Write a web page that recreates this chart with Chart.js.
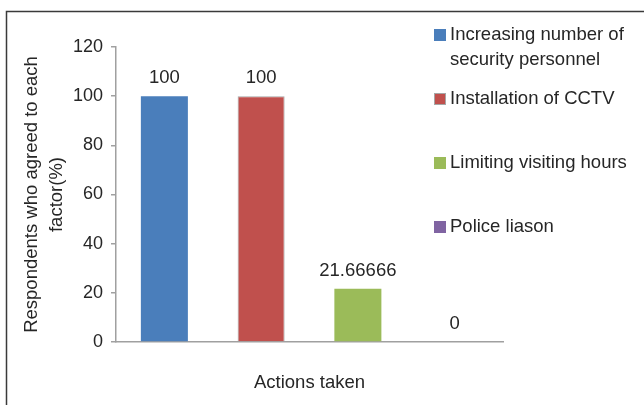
<!DOCTYPE html>
<html>
<head>
<meta charset="utf-8">
<script src="https://cdn.jsdelivr.net/npm/chart.js@4"></script>
<style>
  html, body { margin: 0; padding: 0; background: #fff; }
  canvas { display: block; }
</style>
</head>
<body>
<canvas id="chart" width="644" height="405"></canvas>
<script>
const actions = ['Increasing number of security personnel', 'Installation of CCTV', 'Limiting visiting hours', 'Police liason'];
const legendLines = [['Increasing number of', 'security personnel'], ['Installation of CCTV'], ['Limiting visiting hours'], ['Police liason']];
const agreed = [100, 100, 21.66666, 0];
const valueLabels = ['100', '100', '21.66666', '0'];
const barColors = ['#4a7ebb', '#c0504d', '#9bbb59', '#8064a2'];
const barBorders = ['#4a7ebb', '#a6a6a6', '#9bbb59', '#8064a2'];

const FONT = 'Liberation Sans, Arial, sans-serif';
const TEXT = '#262626';
const SIZE = 18.5;

// value printed above each bar
const valueLabelPlugin = {
    id: 'valueLabels',
    afterDatasetsDraw(chart) {
        const ctx = chart.ctx;
        const meta = chart.getDatasetMeta(0);
        ctx.save();
        ctx.font = SIZE + 'px ' + FONT;
        ctx.fillStyle = TEXT;
        ctx.textAlign = 'center';
        ctx.textBaseline = 'alphabetic';
        meta.data.forEach((bar, i) => {
            ctx.fillText(valueLabels[i], bar.x, bar.y - 13);
        });
        ctx.restore();
    }
};

// legend on the right, one entry per bar, plus the outer frame
const sideLegendPlugin = {
    id: 'sideLegend',
    afterDraw(chart) {
        const ctx = chart.ctx;
        ctx.save();
        ctx.strokeStyle = '#3a3a3a';
        ctx.lineWidth = 1.5;
        ctx.beginPath();
        ctx.moveTo(6.5, 405);
        ctx.lineTo(6.5, 11.5);
        ctx.lineTo(644, 11.5);
        ctx.stroke();

        ctx.font = SIZE + 'px ' + FONT;
        ctx.textAlign = 'left';
        ctx.textBaseline = 'middle';
        legendLines.forEach((lines, i) => {
            const y = 35 + i * 64;
            ctx.fillStyle = barColors[i];
            ctx.fillRect(434, y - 6, 12, 12);
            if (barBorders[i] !== barColors[i]) {
                ctx.strokeStyle = barBorders[i];
                ctx.lineWidth = 1;
                ctx.strokeRect(434.5, y - 5.5, 11, 11);
            }
            ctx.fillStyle = TEXT;
            lines.forEach((t, j) => ctx.fillText(t, 450, y + j * 25));
        });
        ctx.restore();
    }
};

const ctx = document.querySelector('#chart').getContext('2d');
const chart = new Chart(ctx, {
    type: 'bar',
    data: {
        labels: actions,
        datasets: [{
            label: 'Respondents',
            data: agreed,
            backgroundColor: barColors,
            borderColor: barBorders,
            borderWidth: [0, 1, 0, 0],
            categoryPercentage: 1,
            barPercentage: 0.486
        }]
    },
    options: {
        responsive: false,
        animation: false,
        layout: {
            padding: { left: 0, right: 141, top: 47, bottom: 0 }
        },
        scales: {
            x: {
                grid: { display: false },
                border: { display: true, color: '#a0a0a0', width: 1.5 },
                ticks: { display: false },
                title: {
                    display: true,
                    text: 'Actions taken',
                    color: TEXT,
                    font: { family: FONT, size: SIZE },
                    padding: { top: 0, bottom: 11 }
                },
                afterFit(scale) { scale.height = 63; }
            },
            y: {
                min: 0,
                max: 120,
                ticks: {
                    stepSize: 20,
                    color: TEXT,
                    font: { family: FONT, size: 18 },
                    padding: 8
                },
                grid: {
                    drawOnChartArea: false,
                    drawTicks: true,
                    tickLength: 5,
                    color: '#a0a0a0',
                    lineWidth: 1.5
                },
                border: { display: true, color: '#a0a0a0', width: 1.5 },
                title: {
                    display: true,
                    text: ['Respondents who agreed to each', 'factor(%)'],
                    color: TEXT,
                    font: { family: FONT, size: SIZE, lineHeight: 1.35 },
                    padding: { top: 19.5, bottom: 0 }
                },
                afterFit(scale) { scale.width = 116; }
            }
        },
        plugins: {
            legend: { display: false },
            tooltip: { enabled: false }
        }
    },
    plugins: [valueLabelPlugin, sideLegendPlugin]
});
</script>
</body>
</html>
